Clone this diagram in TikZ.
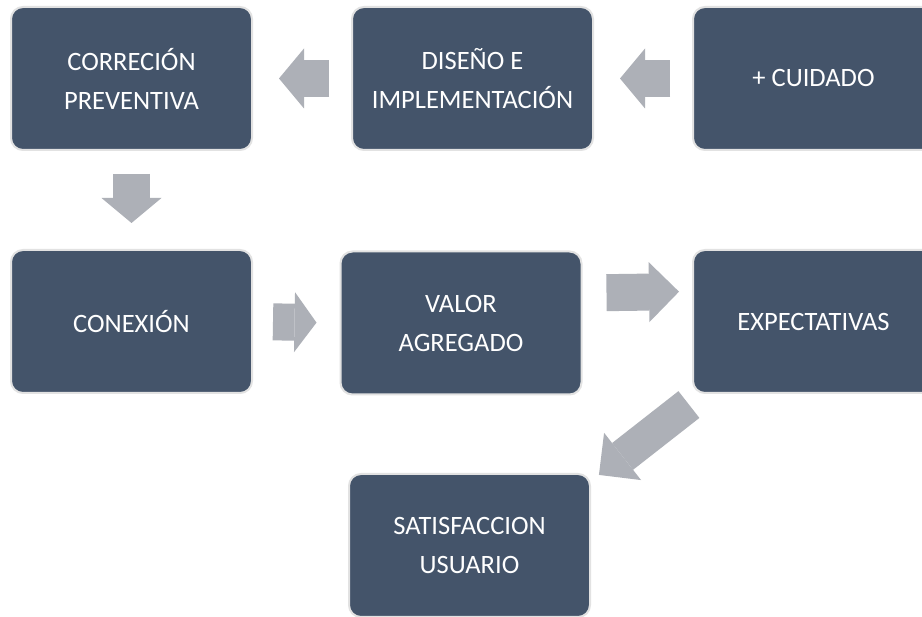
\documentclass[tikz,border=0pt]{standalone}
\usepackage{fontspec}
\setmainfont{Carlito}
\usetikzlibrary{arrows.meta}
\definecolor{boxblue}{HTML}{44546A}
\definecolor{arrowgray}{HTML}{ADB0B7}
\definecolor{boxline}{HTML}{E2E2E2}

\begin{document}
\begin{tikzpicture}[x=1pt,y=-1pt,
	boxnode/.style={rectangle,rounded corners=12pt,draw=boxline,line width=2pt,fill=boxblue,minimum width=241pt,minimum height=143pt,text=white,align=center,font=\fontsize{26.5}{39}\selectfont},
	blk/.style={draw=arrowgray,line width=37pt,-{Triangle[length=#1,width=60pt,line width=0pt]}},
	blk/.default=25pt
]
\path[use as bounding box,clip] (0,0) rectangle (922,617);
\fill[white] (0,0) rectangle (922,617);

\node (corr) [boxnode] at (131.5,78.5) {CORRECIÓN\\PREVENTIVA};
\node (dis) [boxnode] at (472.5,78.5) {DISEÑO E\\IMPLEMENTACIÓN};
\node (cuid) [boxnode] at (813.5,78.5) {+ CUIDADO};
\node (con) [boxnode] at (131.5,321.5) {CONEXIÓN};
\node (val) [boxnode] at (461,323) {VALOR\\AGREGADO};
\node (exp) [boxnode] at (813.5,321.5) {EXPECTATIVAS};
\node (sat) [boxnode] at (469.5,545.5) {SATISFACCION\\USUARIO};

\draw[blk,shorten <=22pt,shorten >=26pt] (cuid.west) -- (dis.east);
\draw[blk,shorten <=22pt,shorten >=26pt] (dis.west) -- (corr.east);
\draw[blk,shorten <=23pt,shorten >=26pt] (corr.south) -- (con.north);
\draw[blk=22pt,shorten <=20pt,shorten >=23pt] (con.east) -- (val.west);
\draw[blk=30pt,shorten <=24pt,shorten >=13pt] ([yshift=30pt]val.east) -- ([yshift=30pt]exp.west);
\draw[blk=30pt,line width=34pt,shorten <=9pt,shorten >=5pt] ([xshift=4pt,yshift=-5pt]exp.south west) -- ([xshift=4pt,yshift=-5pt]sat.north east);
\end{tikzpicture}
\end{document}
